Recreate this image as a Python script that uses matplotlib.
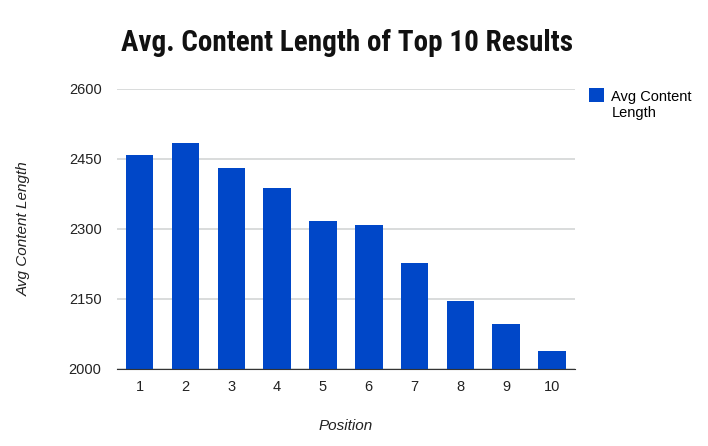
import matplotlib.pyplot as plt
from matplotlib import font_manager

positions = ["1", "2", "3", "4", "5", "6", "7", "8", "9", "10"]
avg_length = [2459, 2483, 2430, 2388, 2317, 2309, 2227, 2145, 2097, 2039]
y_ticks = [2000, 2150, 2300, 2450, 2600]

names = {f.name for f in font_manager.fontManager.ttflist}
title_font = next((n for n in ["Roboto Condensed", "Archivo Narrow", "Barlow Condensed"] if n in names),
                  "DejaVu Sans")
plt.rcParams["font.family"] = ["Liberation Sans", "DejaVu Sans"]

fig = plt.figure(figsize=(7.08, 4.46), dpi=100)
ax = fig.add_axes([0.165, 0.173, 0.647, 0.628])

x = range(len(positions))
ax.bar(x, avg_length, width=0.6, color="#0047C8", zorder=3, label="Avg Content\nLength")

ax.set_ylim(2000, 2600)
ax.set_xlim(-0.5, len(positions) - 0.5)
ax.set_yticks(y_ticks)
ax.set_xticks(list(x))
ax.set_xticklabels(positions)
ax.grid(axis="y", color="#D3D6D6", linewidth=1.2, zorder=0)
for s in ["top", "right", "left"]:
    ax.spines[s].set_visible(False)
ax.spines["bottom"].set_color("#333333")
ax.spines["bottom"].set_zorder(4)
ax.tick_params(length=0, labelsize=10.5, colors="#222222", pad=8)
ax.tick_params(axis="y", pad=11)

ax.set_xlabel("Position", style="italic", fontsize=11, color="#222222", labelpad=18)
ax.set_ylabel("Avg Content Length", style="italic", fontsize=11, color="#222222", labelpad=27)

fig.suptitle("Avg. Content Length of Top 10 Results", fontsize=21, fontweight="bold",
             family=title_font, x=0.49, y=0.935, color="#111111")

leg = ax.legend(loc="upper left", bbox_to_anchor=(0.813, 0.828), bbox_transform=fig.transFigure,
                frameon=False, fontsize=10.5, handlelength=1.05, handleheight=1.05, handletextpad=0.5)
patch = leg.legend_handles[0]
patch.set_y(patch.get_y() + 7.5)

fig.savefig("out.png", dpi=100)
